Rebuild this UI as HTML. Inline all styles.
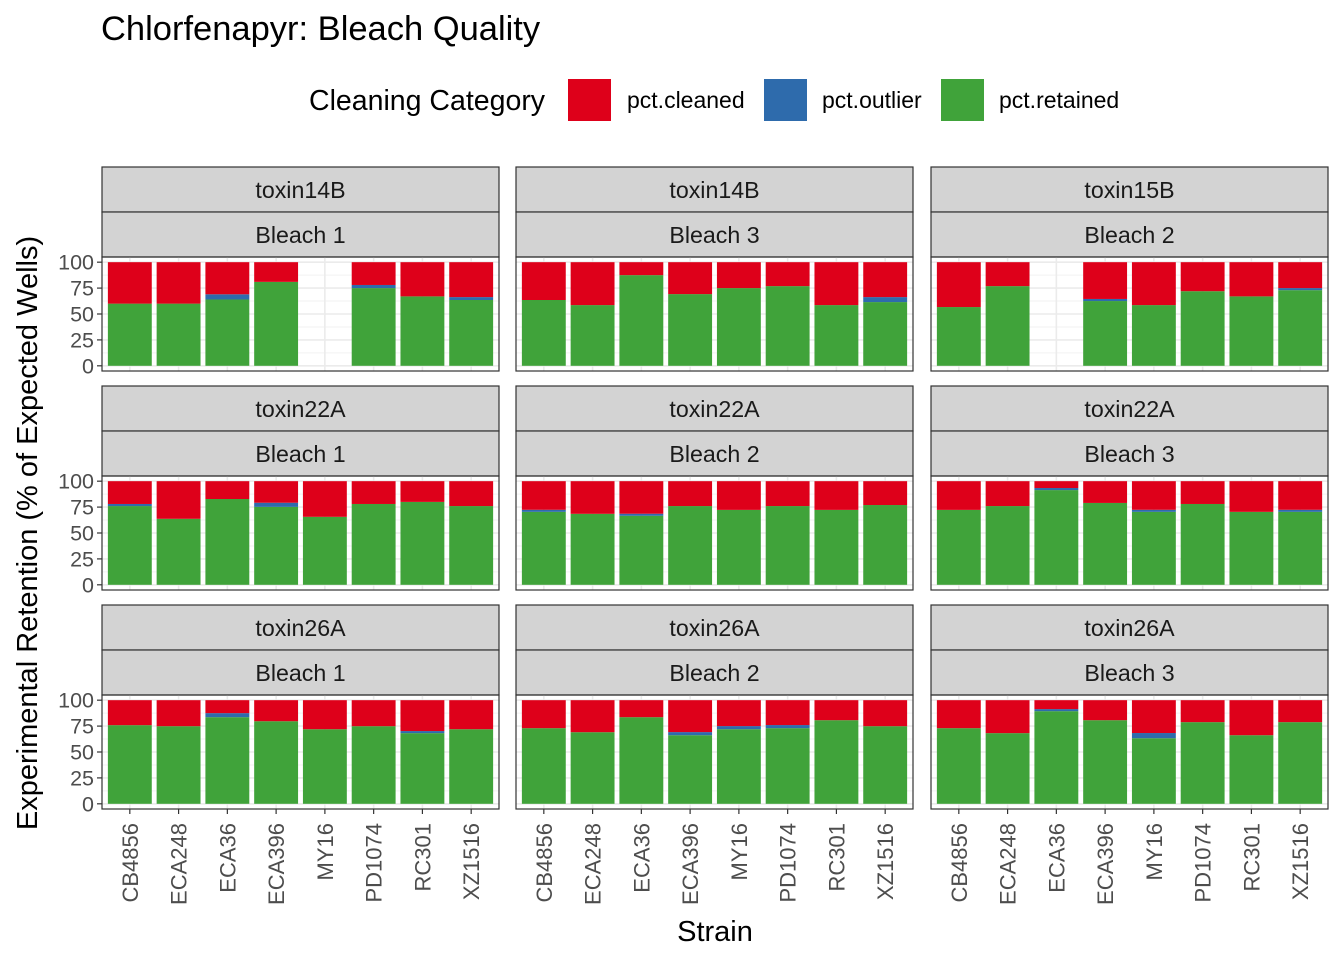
<!DOCTYPE html>
<html><head><meta charset="utf-8"><style>
html,body{margin:0;padding:0;background:#fff;}
svg{display:block;font-family:"Liberation Sans",Arial,sans-serif;}
</style></head><body>
<svg id="chart" width="1344" height="960" viewBox="0 0 1344 960" xmlns="http://www.w3.org/2000/svg">
<text x="101" y="40" font-size="34.5" fill="#000">Chlorfenapyr: Bleach Quality</text>
<g>
<text x="309" y="110" font-size="28.5" fill="#000">Cleaning Category</text>
<rect x="568" y="79" width="43" height="42" fill="#DE001A"/>
<text x="627" y="108" font-size="23">pct.cleaned</text>
<rect x="764" y="79" width="43" height="42" fill="#2E6BAC"/>
<text x="822" y="108" font-size="23">pct.outlier</text>
<rect x="941" y="79" width="43" height="42" fill="#40A33A"/>
<text x="999" y="108" font-size="23">pct.retained</text>
</g>
<text transform="translate(37,533) rotate(-90)" text-anchor="middle" font-size="29">Experimental Retention (% of Expected Wells)</text>
<text x="715" y="941" text-anchor="middle" font-size="29">Strain</text>
<g id="panels"></g>
</svg>
<script>
const strains = ["CB4856","ECA248","ECA36","ECA396","MY16","PD1074","RC301","XZ1516"];
const toxinLabels = [["toxin14B","toxin14B","toxin15B"],["toxin22A","toxin22A","toxin22A"],["toxin26A","toxin26A","toxin26A"]];
const bleachLabels = [["Bleach 1","Bleach 3","Bleach 2"],["Bleach 1","Bleach 2","Bleach 3"],["Bleach 1","Bleach 2","Bleach 3"]];
const yTicks = [0,25,50,75,100];
// retained / outlier per panel (null = missing bar); cleaned = 100 - retained - outlier
const retained = [
 [[60,60,64,81,null,75,67,63.5],[63.5,58.6,87.5,69.2,75,76.9,58.6,61.5],[56.7,76.9,null,62.5,58.6,72,67,73]],
 [[76,63.7,82.8,75.2,65.6,78,80,76],[70.4,68.5,66.6,76,72.3,76,72.3,77],[72.3,76,91.4,79,70.4,78,70.4,70.4]],
 [[75.9,74.9,83.6,79.7,72,74.9,68.2,72],[73,69.1,83.6,66.2,72,73,80.7,74.9],[73,68.2,89.4,80.7,63.3,78.8,66.2,78.8]]
];
const outlier = [
 [[0,0,5,0,null,3,0,2.8],[0,0,0,0,0,0,0,4.8],[0,0,null,2,0,0,0,2]],
 [[2,0,0,4,0,0,0,0],[2,0,2,0,0,0,0,0],[0,0,2,0,2,0,0,2]],
 [[0,0,3.9,0,0,0,2,0],[0,0,0,3,3,3,0,0],[0,0,2,0,5,0,0,0]]
];
const NS="http://www.w3.org/2000/svg";
const root=document.getElementById('panels');
function mk(tag,attrs,parent){const e=document.createElementNS(NS,tag);for(const k in attrs)e.setAttribute(k,attrs[k]);(parent||root).appendChild(e);return e;}
const colX=[102,516,931], panelW=397;
const rowTop=[167,386,605], stripH=45, plotH=114;
const C_CL="#DE001A",C_OUT="#2E6BAC",C_RET="#40A33A";
for(let r=0;r<3;r++){for(let c=0;c<3;c++){
  const x0=colX[c], st=rowTop[r], py=st+2*stripH, pb=py+plotH;
  const g=mk('g',{});
  
  
  const s1=mk('rect',{x:x0,y:st,width:panelW,height:stripH,fill:"#d3d3d3",stroke:"#333",'stroke-width':1.2},g);
  
  
  const t1=mk('text',{x:x0+panelW/2,y:st+31,'text-anchor':'middle','font-size':23.2,fill:'#1a1a1a'},g);t1.textContent=toxinLabels[r][c];
  
  
  const s2=mk('rect',{x:x0,y:st+stripH,width:panelW,height:stripH,fill:"#d3d3d3",stroke:"#333",'stroke-width':1.2},g);
  
  
  const t2=mk('text',{x:x0+panelW/2,y:st+stripH+31,'text-anchor':'middle','font-size':23.2,fill:'#1a1a1a'},g);t2.textContent=bleachLabels[r][c];
  
  
  const yScale=v=>pb-plotH*0.0455-(v/100)*(plotH/1.1);
  const u=(panelW-2)/8.1, xPad=x0+1+0.05*u;
  const xCenter=i=>xPad+(i+0.5)*u;
  for(let k=0;k<4;k++){const v=12.5+25*k;mk('line',{x1:x0,x2:x0+panelW,y1:yScale(v),y2:yScale(v),stroke:'#f2f2f2','stroke-width':1},g);}
  yTicks.forEach(v=>mk('line',{x1:x0,x2:x0+panelW,y1:yScale(v),y2:yScale(v),stroke:'#ebebeb','stroke-width':1.6},g));
  strains.forEach((s,i)=>mk('line',{x1:xCenter(i),x2:xCenter(i),y1:py,y2:pb,stroke:'#ebebeb','stroke-width':1.6},g));
  const bw=0.9*u;
  strains.forEach((s,i)=>{
    const rv=retained[r][c][i], ov=outlier[r][c][i];
    if(rv===null)return;
    const bx=xCenter(i)-bw/2;
    const b1=mk('rect',{x:bx,y:yScale(rv),width:bw,height:yScale(0)-yScale(rv),fill:C_RET},g);
    
    
    if(ov>0){const b2=mk('rect',{x:bx,y:yScale(rv+ov),width:bw,height:yScale(rv)-yScale(rv+ov),fill:C_OUT},g);
    
    }
    const b3=mk('rect',{x:bx,y:yScale(100),width:bw,height:yScale(rv+ov)-yScale(100),fill:C_CL},g);
    
    
  });
  const border=mk('rect',{x:x0,y:py,width:panelW,height:plotH,fill:'none',stroke:'#333','stroke-width':1.2},g);
  
  
  if(c===0){yTicks.forEach(v=>{
    mk('line',{x1:x0-5,x2:x0,y1:yScale(v),y2:yScale(v),stroke:'#333','stroke-width':1.2},g);
    const tl=mk('text',{x:x0-8,y:yScale(v)+7.5,'text-anchor':'end','font-size':21.5,fill:'#4d4d4d'},g);tl.textContent=v;
    
    
  });}
  if(r===2){strains.forEach((s,i)=>{
    mk('line',{x1:xCenter(i),x2:xCenter(i),y1:pb,y2:pb+5,stroke:'#333','stroke-width':1.2},g);
    const tl=mk('text',{transform:'translate('+(xCenter(i)+8)+','+(pb+14)+') rotate(-90)','text-anchor':'end','font-size':22,fill:'#4d4d4d'},g);tl.textContent=s;
    
    
  });}
}}
</script>
</body></html>
